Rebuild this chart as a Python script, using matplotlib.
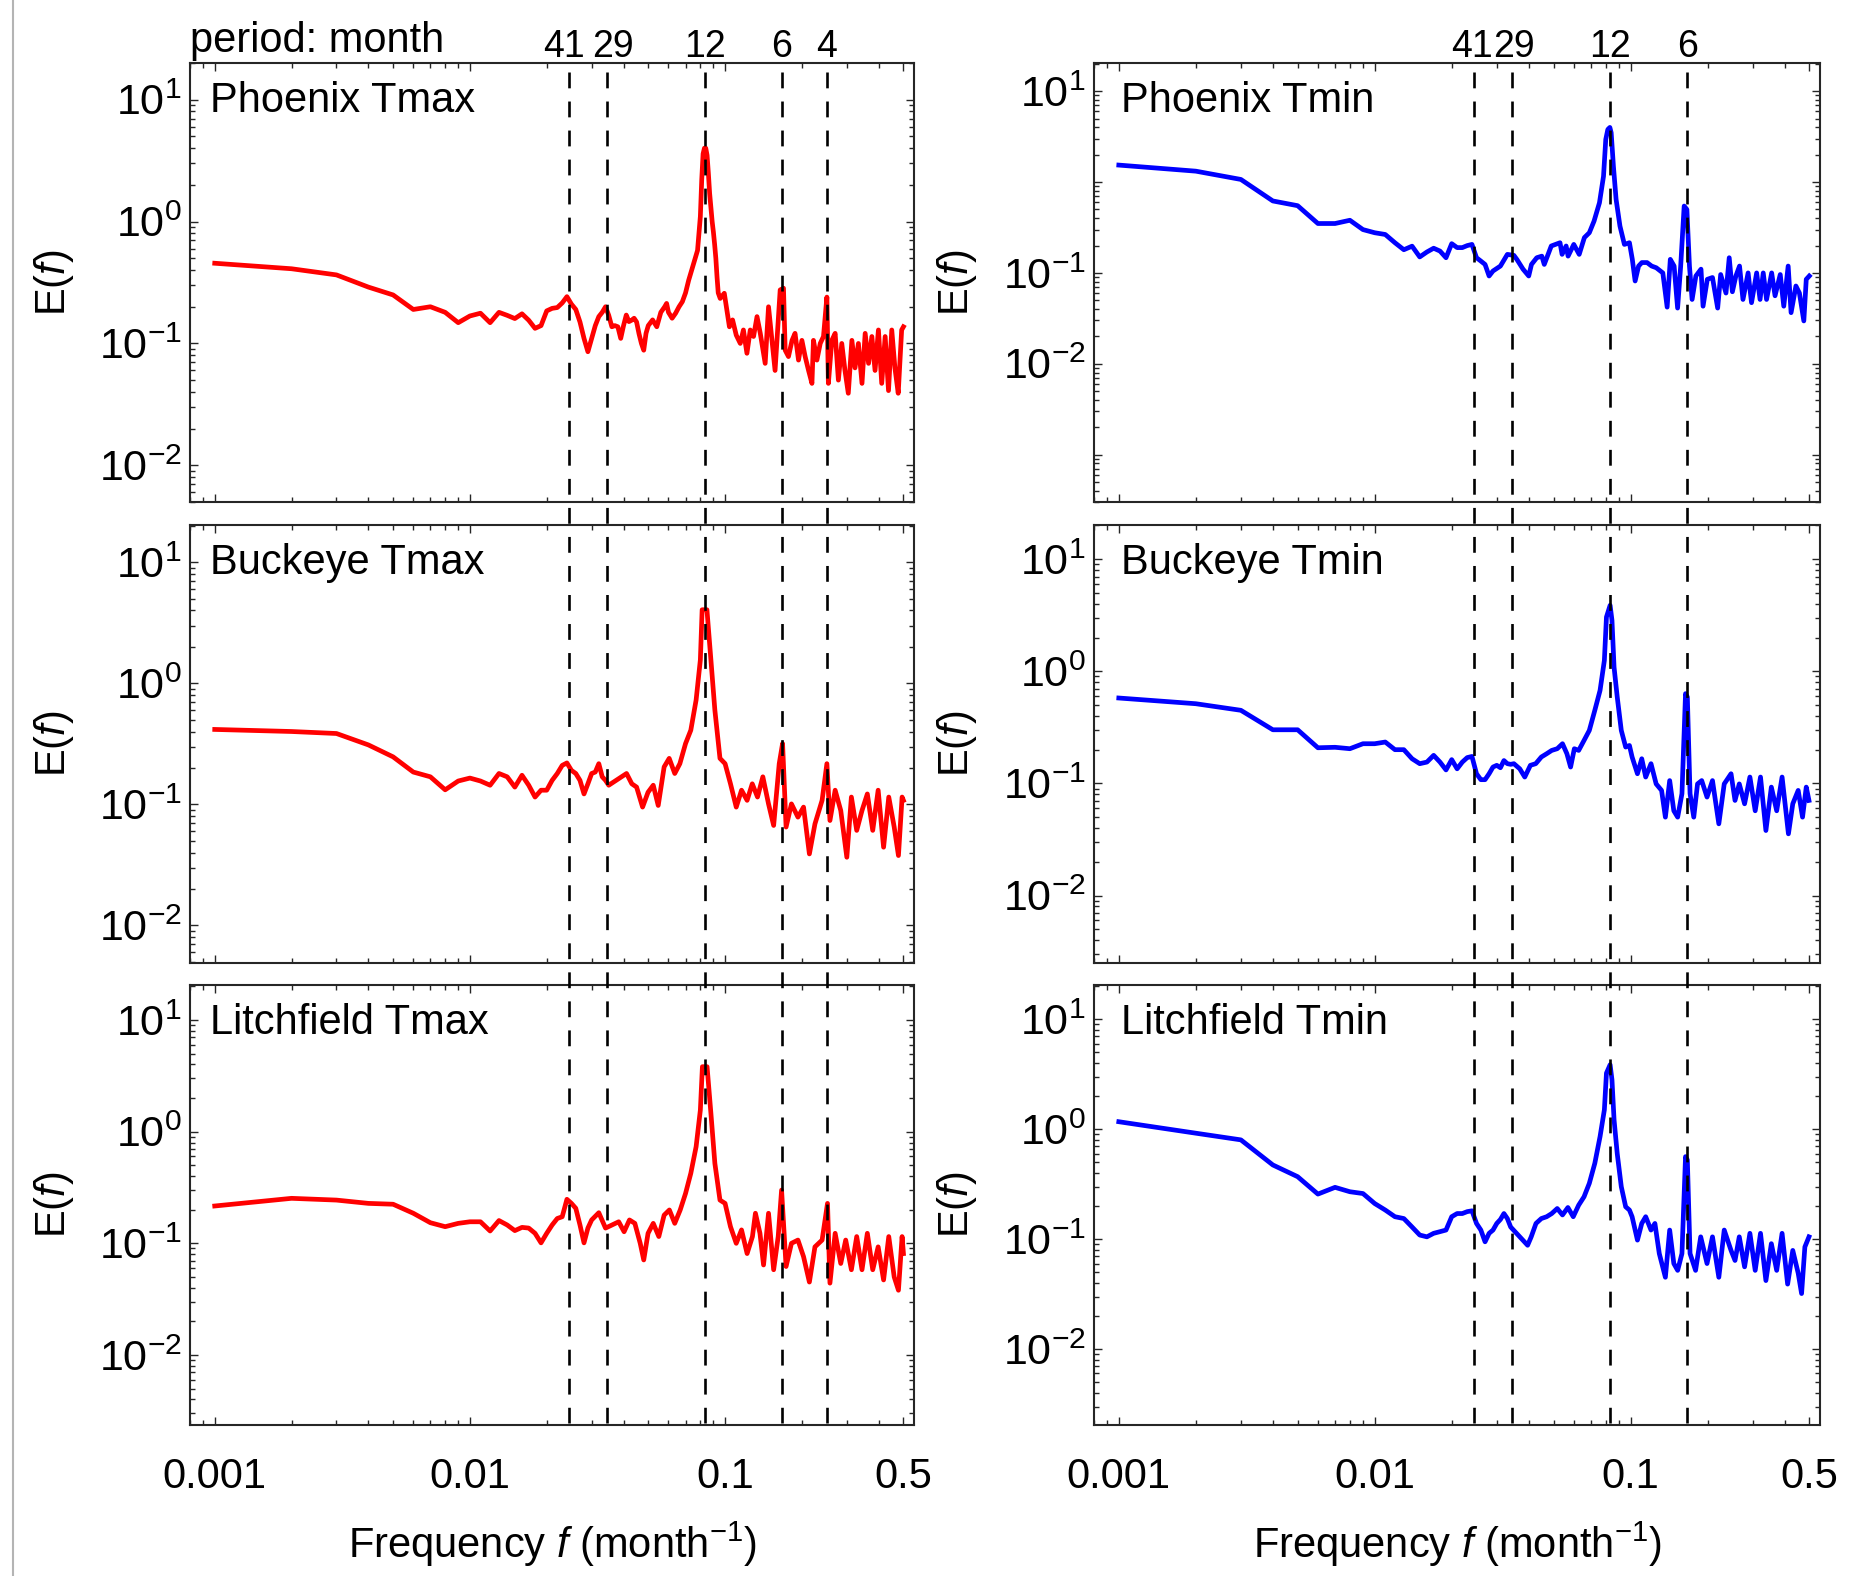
import numpy as np
import matplotlib
matplotlib.use('Agg')
import matplotlib.pyplot as plt
from matplotlib.lines import Line2D
from matplotlib import transforms
from matplotlib.ticker import FixedLocator, LogLocator, FuncFormatter, NullFormatter

plt.rcParams['font.family'] = ['Liberation Sans', 'DejaVu Sans']
plt.rcParams['mathtext.fontset'] = 'custom'
plt.rcParams['mathtext.rm'] = 'Liberation Sans'
plt.rcParams['mathtext.it'] = 'Liberation Sans:italic'
plt.rcParams['mathtext.bf'] = 'Liberation Sans:bold'

# ---------------- data ----------------
f_phx_tmax = [0.001, 0.002, 0.003, 0.004, 0.005, 0.006, 0.007, 0.008, 0.009, 0.010,
              0.011, 0.012, 0.013, 0.014, 0.015, 0.016, 0.017, 0.018, 0.019, 0.020,
              0.021, 0.022, 0.023, 0.024, 0.025, 0.026, 0.027, 0.028, 0.029, 0.030,
              0.031, 0.032, 0.033, 0.034, 0.035, 0.036, 0.037, 0.038, 0.039, 0.040,
              0.041, 0.042, 0.043, 0.044, 0.045, 0.046, 0.047, 0.048, 0.049, 0.050,
              0.052, 0.054, 0.056, 0.058, 0.059, 0.060, 0.062, 0.064, 0.066, 0.068,
              0.070, 0.071, 0.072, 0.074, 0.076, 0.078, 0.079, 0.080, 0.081, 0.082,
              0.083, 0.084, 0.085, 0.086, 0.087, 0.088, 0.089, 0.090, 0.091, 0.092,
              0.093, 0.094, 0.0957, 0.0993, 0.1016, 0.104, 0.107, 0.1106, 0.1147, 0.118,
              0.1218, 0.1255, 0.1293, 0.1334, 0.1374, 0.1436, 0.148, 0.1527, 0.157, 0.1644,
              0.1694, 0.172, 0.1772, 0.183, 0.188, 0.194, 0.200, 0.206, 0.2124, 0.219,
              0.222, 0.229, 0.236, 0.243, 0.2506, 0.254, 0.262, 0.270, 0.278, 0.2866,
              0.295, 0.304, 0.314, 0.323, 0.333, 0.344, 0.354, 0.365, 0.376, 0.387,
              0.399, 0.411, 0.424, 0.437, 0.450, 0.463, 0.477, 0.492, 0.500]
e_phx_tmax = [0.455, 0.41, 0.365, 0.29, 0.25, 0.19, 0.20, 0.18, 0.148, 0.168,
              0.177, 0.148, 0.18, 0.17, 0.16, 0.175, 0.155, 0.133, 0.14, 0.185,
              0.194, 0.197, 0.215, 0.242, 0.21, 0.19, 0.15, 0.11, 0.0855, 0.11,
              0.14, 0.166, 0.18, 0.2, 0.17, 0.137, 0.14, 0.137, 0.11, 0.14,
              0.171, 0.151, 0.155, 0.161, 0.15, 0.12, 0.1, 0.088, 0.121, 0.14,
              0.156, 0.137, 0.18, 0.2, 0.213, 0.18, 0.161, 0.177, 0.2, 0.22,
              0.26, 0.292, 0.33, 0.40, 0.48, 0.58, 0.8, 1.1, 2.2, 3.6,
              4.0, 4.0, 3.5, 2.5, 1.7, 1.3, 1.0, 0.82, 0.65, 0.5,
              0.35, 0.26, 0.234, 0.258, 0.188, 0.137, 0.156, 0.117, 0.1, 0.129,
              0.083, 0.129, 0.114, 0.166, 0.121, 0.0686, 0.2, 0.106, 0.06, 0.275,
              0.284, 0.088, 0.078, 0.106, 0.121, 0.073, 0.106, 0.078, 0.06, 0.047,
              0.106, 0.073, 0.1, 0.114, 0.24, 0.047, 0.106, 0.121, 0.05, 0.1,
              0.06, 0.039, 0.106, 0.063, 0.1, 0.047, 0.121, 0.0686, 0.114, 0.06,
              0.129, 0.047, 0.114, 0.041, 0.129, 0.063, 0.039, 0.129, 0.137]

f_phx_tmin = [0.001, 0.002, 0.003, 0.004, 0.005, 0.006, 0.007, 0.008, 0.009, 0.010,
              0.011, 0.012, 0.013, 0.014, 0.015, 0.016, 0.017, 0.018, 0.019, 0.020,
              0.021, 0.022, 0.023, 0.024, 0.025, 0.026, 0.027, 0.028, 0.029, 0.031,
              0.033, 0.035, 0.036, 0.038, 0.040, 0.041, 0.043, 0.045, 0.046, 0.049,
              0.053, 0.054, 0.056, 0.057, 0.060, 0.063, 0.066, 0.069, 0.072, 0.0756,
              0.0784, 0.080, 0.0815, 0.083, 0.084, 0.0857, 0.0878, 0.0909, 0.0946, 0.099,
              0.1016, 0.1042, 0.1075, 0.1107, 0.116, 0.1209, 0.126, 0.1337, 0.139, 0.143,
              0.148, 0.1527, 0.157, 0.162, 0.166, 0.1699, 0.174, 0.180, 0.1885, 0.192,
              0.1995, 0.209, 0.219, 0.225, 0.236, 0.243, 0.250, 0.258, 0.2666, 0.275,
              0.288, 0.297, 0.311, 0.3207, 0.330, 0.340, 0.356, 0.367, 0.3846, 0.397,
              0.413, 0.424, 0.4428, 0.457, 0.4755, 0.486, 0.4995]
e_phx_tmin = [1.54, 1.32, 1.07, 0.62, 0.55, 0.35, 0.35, 0.38, 0.30, 0.277,
              0.265, 0.215, 0.18, 0.197, 0.15, 0.17, 0.187, 0.174, 0.147, 0.21,
              0.19, 0.19, 0.2, 0.206, 0.147, 0.135, 0.124, 0.0925, 0.105, 0.119,
              0.16, 0.156, 0.14, 0.11, 0.0925, 0.124, 0.147, 0.153, 0.124, 0.198,
              0.215, 0.16, 0.198, 0.153, 0.206, 0.16, 0.245, 0.277, 0.372, 0.593,
              1.16, 2.95, 3.8, 4.0, 3.5, 1.5, 0.645, 0.328, 0.206, 0.215,
              0.141, 0.0815, 0.119, 0.13, 0.13, 0.119, 0.114, 0.1, 0.042, 0.141,
              0.119, 0.041, 0.119, 0.545, 0.5, 0.119, 0.051, 0.0925, 0.11, 0.043,
              0.085, 0.089, 0.041, 0.096, 0.06, 0.147, 0.062, 0.0925, 0.119, 0.051,
              0.1, 0.047, 0.1, 0.051, 0.1, 0.051, 0.1, 0.056, 0.096, 0.043,
              0.119, 0.0365, 0.0718, 0.06, 0.0296, 0.085, 0.0925]

f_bky_tmax = [0.001, 0.002, 0.003, 0.004, 0.005, 0.006, 0.007, 0.008, 0.009, 0.010,
              0.011, 0.012, 0.013, 0.014, 0.015, 0.016, 0.017, 0.018, 0.019, 0.020,
              0.021, 0.022, 0.023, 0.024, 0.025, 0.026, 0.027, 0.028, 0.029, 0.030,
              0.031, 0.032, 0.033, 0.034, 0.035,
              0.0411, 0.0431, 0.045, 0.0475, 0.0499, 0.0523, 0.0547, 0.0577, 0.0604, 0.0635,
              0.0665, 0.070, 0.0734, 0.077, 0.080, 0.0813, 0.0849, 0.088, 0.0912, 0.0955,
              0.100, 0.105, 0.1106, 0.116, 0.122, 0.1278, 0.134, 0.1406, 0.148, 0.155,
              0.163, 0.168, 0.1734, 0.182, 0.193, 0.203, 0.214, 0.225, 0.240, 0.2506,
              0.2576, 0.270, 0.284, 0.300, 0.3126, 0.328, 0.344, 0.361, 0.379, 0.398,
              0.418, 0.438, 0.460, 0.478, 0.494, 0.500]
e_bky_tmax = [0.416, 0.40, 0.385, 0.31, 0.247, 0.185, 0.169, 0.132, 0.156, 0.165,
              0.156, 0.144, 0.18, 0.169, 0.139, 0.174, 0.144, 0.115, 0.131, 0.131,
              0.158, 0.18, 0.21, 0.22, 0.191, 0.18, 0.158, 0.122, 0.148, 0.18,
              0.185, 0.217, 0.169, 0.158, 0.144,
              0.18, 0.148, 0.139, 0.095, 0.126, 0.144, 0.098, 0.204, 0.24, 0.18,
              0.217, 0.318, 0.41, 0.728, 1.56, 4.05, 4.05, 1.56, 0.6, 0.24,
              0.217, 0.148, 0.095, 0.131, 0.108, 0.148, 0.115, 0.169, 0.101, 0.067,
              0.217, 0.318, 0.065, 0.101, 0.0785, 0.095, 0.039, 0.069, 0.108, 0.217,
              0.0736, 0.131, 0.089, 0.0366, 0.115, 0.061, 0.089, 0.122, 0.061, 0.131,
              0.0443, 0.115, 0.065, 0.0378, 0.115, 0.108]

f_bky_tmin = [0.001, 0.002, 0.003, 0.004, 0.005, 0.006, 0.007, 0.008, 0.009, 0.010,
              0.011, 0.012, 0.013, 0.014, 0.015, 0.016, 0.017, 0.018, 0.019, 0.020,
              0.021, 0.022, 0.023, 0.024, 0.025, 0.026, 0.027, 0.028, 0.029, 0.030,
              0.031, 0.032, 0.033, 0.034, 0.035,
              0.0369, 0.0386, 0.0406, 0.0426, 0.0448, 0.047, 0.0492, 0.0517, 0.0542, 0.0564,
              0.0583, 0.0603, 0.0627, 0.0658, 0.069, 0.0725, 0.076, 0.079, 0.0805, 0.0832,
              0.0846, 0.0862, 0.0887, 0.092, 0.0957, 0.099, 0.1014, 0.1064, 0.1106, 0.1146,
              0.1202, 0.1259, 0.1322, 0.1368, 0.1422, 0.1476, 0.1528, 0.1588, 0.164, 0.1667,
              0.1708, 0.1766, 0.1827, 0.1897, 0.199, 0.209, 0.2213, 0.2323, 0.247, 0.256,
              0.266, 0.279, 0.2927, 0.307, 0.322, 0.338, 0.355, 0.3725, 0.391, 0.414,
              0.4305, 0.452, 0.470, 0.486, 0.498]
e_bky_tmin = [0.578, 0.514, 0.449, 0.301, 0.301, 0.208, 0.21, 0.204, 0.226, 0.226,
              0.234, 0.2, 0.2, 0.166, 0.15, 0.155, 0.178, 0.155, 0.132, 0.163,
              0.135, 0.155, 0.17, 0.174, 0.122, 0.108, 0.108, 0.122, 0.14, 0.145,
              0.138, 0.16, 0.15, 0.148, 0.15,
              0.135, 0.114, 0.145, 0.15, 0.172, 0.184, 0.197, 0.204, 0.226, 0.184,
              0.14, 0.204, 0.197, 0.242, 0.297, 0.449, 0.676, 1.25, 3.05, 3.88,
              2.85, 1.09, 0.59, 0.297, 0.211, 0.218, 0.172, 0.122, 0.166, 0.114,
              0.15, 0.099, 0.0866, 0.05, 0.106, 0.057, 0.05, 0.081, 0.632, 0.59,
              0.081, 0.05, 0.099, 0.106, 0.0755, 0.106, 0.0436, 0.099, 0.122, 0.0705,
              0.099, 0.0658, 0.114, 0.057, 0.114, 0.038, 0.0927, 0.057, 0.114, 0.0355,
              0.0658, 0.0866, 0.05, 0.0927, 0.0705]

f_lit_tmax = [0.001, 0.002, 0.003, 0.004, 0.005, 0.006, 0.007, 0.008, 0.009, 0.010,
              0.011, 0.012, 0.013, 0.014, 0.015, 0.016, 0.017, 0.018, 0.019, 0.020,
              0.021, 0.022, 0.023, 0.024, 0.025, 0.026, 0.027, 0.028, 0.029, 0.030,
              0.032, 0.034, 0.0383, 0.0402, 0.0422, 0.0443, 0.0465, 0.048, 0.0499, 0.0523,
              0.055, 0.0577, 0.0605, 0.0635, 0.0667, 0.070, 0.0734, 0.077, 0.080, 0.0815,
              0.085, 0.088, 0.0912, 0.0955, 0.100, 0.105, 0.1106, 0.116, 0.122, 0.128,
              0.1315, 0.137, 0.1415, 0.148, 0.155, 0.1615, 0.1665, 0.1734, 0.182, 0.193,
              0.203, 0.214, 0.225, 0.240, 0.252, 0.2576, 0.270, 0.284, 0.297, 0.3126,
              0.328, 0.344, 0.361, 0.379, 0.398, 0.418, 0.438, 0.460, 0.478, 0.494,
              0.500]
e_lit_tmax = [0.216, 0.253, 0.244, 0.228, 0.224, 0.186, 0.153, 0.141, 0.151, 0.156,
              0.156, 0.129, 0.16, 0.146, 0.13, 0.139, 0.137, 0.123, 0.101, 0.123,
              0.146, 0.167, 0.173, 0.248, 0.228, 0.206, 0.146, 0.101, 0.137, 0.162,
              0.188, 0.137, 0.156, 0.127, 0.162, 0.151, 0.1, 0.071, 0.123, 0.151,
              0.115, 0.179, 0.199, 0.151, 0.199, 0.28, 0.424, 0.734, 1.56, 3.82,
              3.82, 1.46, 0.52, 0.244, 0.228, 0.141, 0.1, 0.132, 0.081, 0.115,
              0.186, 0.123, 0.064, 0.186, 0.058, 0.115, 0.3, 0.062, 0.1, 0.107,
              0.076, 0.045, 0.093, 0.107, 0.228, 0.044, 0.123, 0.066, 0.107, 0.058,
              0.115, 0.058, 0.123, 0.058, 0.093, 0.047, 0.115, 0.05, 0.038, 0.115,
              0.081]

f_lit_tmin = [0.001, 0.002, 0.003, 0.004, 0.005, 0.006, 0.007, 0.008, 0.009, 0.010,
              0.011, 0.012, 0.013, 0.014, 0.015, 0.016, 0.017, 0.018, 0.019, 0.020,
              0.021, 0.022, 0.023, 0.024, 0.025, 0.026, 0.027, 0.028, 0.029, 0.030,
              0.031, 0.032, 0.033, 0.034,
              0.0396, 0.0409, 0.0427, 0.0448, 0.047, 0.0492, 0.0517, 0.0542, 0.0569, 0.0597,
              0.0627, 0.0658, 0.069, 0.0725, 0.076, 0.079, 0.0805, 0.0832, 0.0846, 0.0862,
              0.0887, 0.092, 0.0957, 0.099, 0.1014, 0.1064, 0.1106, 0.1146, 0.1202, 0.1245,
              0.1295, 0.1368, 0.1422, 0.1476, 0.1528, 0.1588, 0.164, 0.1667, 0.1708, 0.1795,
              0.188, 0.199, 0.209, 0.2213, 0.2323, 0.247, 0.256, 0.266, 0.279, 0.2927,
              0.307, 0.322, 0.338, 0.355, 0.3725, 0.391, 0.411, 0.4305, 0.452, 0.466,
              0.480, 0.498]
e_lit_tmin = [1.17, 0.92, 0.8, 0.473, 0.37, 0.257, 0.296, 0.27, 0.26, 0.211,
              0.184, 0.16, 0.154, 0.129, 0.109, 0.105, 0.113, 0.117, 0.121, 0.16,
              0.171, 0.171, 0.178, 0.181, 0.139, 0.121, 0.0946, 0.113, 0.121, 0.139,
              0.151, 0.171, 0.154, 0.129,
              0.088, 0.105, 0.139, 0.154, 0.16, 0.171, 0.19, 0.166, 0.194, 0.16,
              0.204, 0.243, 0.322, 0.49, 0.857, 1.5, 3.24, 3.86, 2.82, 1.22,
              0.6, 0.3, 0.197, 0.184, 0.16, 0.098, 0.139, 0.16, 0.121, 0.139,
              0.074, 0.045, 0.121, 0.06, 0.052, 0.074, 0.563, 0.526, 0.074, 0.052,
              0.105, 0.06, 0.105, 0.045, 0.121, 0.079, 0.064, 0.105, 0.056, 0.113,
              0.052, 0.113, 0.042, 0.091, 0.052, 0.113, 0.039, 0.079, 0.049, 0.032,
              0.085, 0.105]

panel_titles = [['Phoenix Tmax', 'Phoenix Tmin'],
                ['Buckeye Tmax', 'Buckeye Tmin'],
                ['Litchfield Tmax', 'Litchfield Tmin']]
series = [[(f_phx_tmax, e_phx_tmax), (f_phx_tmin, e_phx_tmin)],
          [(f_bky_tmax, e_bky_tmax), (f_bky_tmin, e_bky_tmin)],
          [(f_lit_tmax, e_lit_tmax), (f_lit_tmin, e_lit_tmin)]]
ylims = [[(0.005, 20), (0.0003, 20.5)],
         [(0.0049, 20.3), (0.0025, 20.2)],
         [(0.00236, 20.6), (0.00204, 20.5)]]
ylabeled = [[[1, 0, -1, -2], [1, -1, -2]],
            [[1, 0, -1, -2], [1, 0, -1, -2]],
            [[1, 0, -1, -2], [1, 0, -1, -2]]]
col_colors = ['#ff0000', '#0000ff']
periods_left = [41, 29, 12, 6, 4]
periods_right = [41, 29, 12, 6]
# small horizontal nudges (points) of the period labels, as in the reference
label_nudge_left = [-3.5, 4.5, 0, 0, 0]
label_nudge_right = [-1, 1.5, 0, 0]
xtick_vals = [0.001, 0.01, 0.1, 0.5]
xtick_labels = ['0.001', '0.01', '0.1', '0.5']

# ---------------- layout ----------------
W, H = 1862, 1576
fig = plt.figure(figsize=(W / 100, H / 100), dpi=100)
col_px = [(190, 914), (1094, 1820)]
row_px = [(63, 502), (525, 963), (985, 1425)]

axes = [[None, None] for _ in range(3)]
for r in range(3):
    for c in range(2):
        x0, x1 = col_px[c]
        y0, y1 = row_px[r]
        ax = fig.add_axes([x0 / W, 1 - y1 / H, (x1 - x0) / W, (y1 - y0) / H])
        axes[r][c] = ax
        f, e = series[r][c]
        ax.plot(f, e, color=col_colors[c], lw=3.4, solid_joinstyle='round', zorder=3)
        ax.set_xscale('log')
        ax.set_yscale('log')
        ax.set_xlim(0.0008, 0.55)
        ax.set_ylim(*ylims[r][c])

        ax.xaxis.set_major_locator(FixedLocator(xtick_vals))
        ax.xaxis.set_minor_locator(LogLocator(base=10, subs=np.arange(2, 10), numticks=20))
        ax.xaxis.set_minor_formatter(NullFormatter())
        if r == 2:
            ax.set_xticklabels(xtick_labels)
        else:
            ax.set_xticklabels([])

        ax.yaxis.set_major_locator(FixedLocator([1e-3, 1e-2, 1e-1, 1e0, 1e1]))
        ax.yaxis.set_minor_locator(LogLocator(base=10, subs=np.arange(2, 10), numticks=20))
        ax.yaxis.set_minor_formatter(NullFormatter())
        labeled = ylabeled[r][c]

        def fmt(v, pos, labeled=labeled):
            p = int(round(np.log10(v)))
            if p in labeled:
                return r'$\mathdefault{10^{%d}}$' % p
            return ''
        ax.yaxis.set_major_formatter(FuncFormatter(fmt))

        ax.tick_params(which='both', direction='in', top=True, right=True,
                       color='#262626', width=1.0)
        ax.tick_params(which='major', length=6)
        ax.tick_params(which='minor', length=3.5)
        ax.tick_params(axis='x', labelsize=30, pad=23)
        ax.tick_params(axis='y', labelsize=31, pad=6)
        for sp in ax.spines.values():
            sp.set_linewidth(1.5)
            sp.set_color('#262626')

        ax.set_ylabel('E($f$)', fontsize=30)
        ax.yaxis.set_label_coords(-0.158, 0.5)
        tx = 0.0276 if c == 0 else 0.037
        ax.text(tx, 0.888, panel_titles[r][c], transform=ax.transAxes,
                ha='left', va='baseline', fontsize=30, zorder=6)
        if r == 2:
            ax.set_xlabel('Frequency $f$ (month$^{-1}$)', fontsize=30)
            ax.xaxis.set_label_coords(0.5, -0.215)

# period labels on top
for c, (plist, nudges) in enumerate([(periods_left, label_nudge_left),
                                     (periods_right, label_nudge_right)]):
    ax = axes[0][c]
    base = transforms.blended_transform_factory(ax.transData, ax.transAxes)
    for p, dx in zip(plist, nudges):
        tr = base + transforms.ScaledTranslation(dx / 72, 0, fig.dpi_scale_trans)
        ax.text(1.0 / p, 1.0137, str(p), transform=tr, ha='center',
                va='baseline', fontsize=27, clip_on=False)
axes[0][0].text(0.0, 1.025, 'period: month', transform=axes[0][0].transAxes,
                ha='left', va='baseline', fontsize=30)

# dashed vertical lines spanning all three rows
y_top = 1 - 72 / H
y_bot = 1 - 1423 / H
for c, plist in enumerate([periods_left, periods_right]):
    axb = axes[2][c]
    trans = transforms.blended_transform_factory(axb.transData, fig.transFigure)
    for p in plist:
        ln = Line2D([1.0 / p, 1.0 / p], [y_top, y_bot], transform=trans,
                    color='black', lw=1.9, linestyle=(0, (6, 5)), zorder=5)
        fig.add_artist(ln)

# thin gray page border at left
fig.add_artist(Line2D([13 / W, 13 / W], [0, 1], transform=fig.transFigure,
                      color='#b4b4b4', lw=1.5))

fig.savefig('out.png', dpi=100)
